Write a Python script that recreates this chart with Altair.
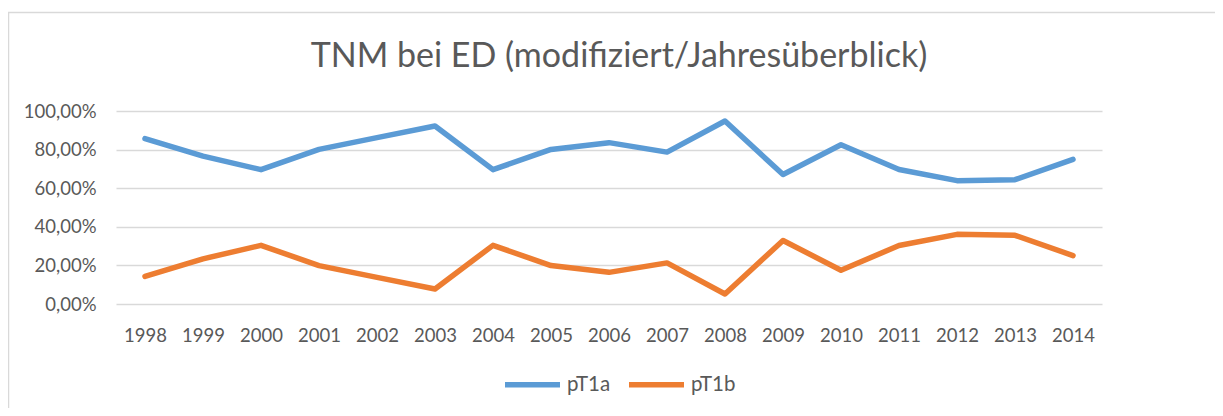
import altair as alt
import pandas as pd

years = [str(y) for y in range(1998, 2015)]
pT1a = [85.7, 76.6, 69.6, 80.1, 86.2, 92.2, 69.6, 80.1, 83.6, 78.7, 94.8, 67.1, 82.5, 69.7, 63.9, 64.4, 74.9]
pT1b = [14.3, 23.4, 30.4, 19.9, 13.8, 7.8, 30.4, 19.9, 16.4, 21.3, 5.2, 32.9, 17.5, 30.3, 36.1, 35.6, 25.1]
series = ["pT1a", "pT1b"]
colors = ["#5B9BD5", "#ED7D31"]
title_text = "TNM bei ED (modifiziert/Jahresüberblick)"

rows = []
for i, y in enumerate(years):
    rows.append({"year": y, "series": "pT1a", "value": pT1a[i] / 100})
    rows.append({"year": y, "series": "pT1b", "value": pT1b[i] / 100})
df = pd.DataFrame(rows)

FONT = "Lato"
GREY = "#595959"
FS = 18.5

lines = alt.Chart(df).mark_line(strokeWidth=5.5, strokeCap="round", strokeJoin="round").encode(
    x=alt.X("year:O", title=None, sort=years,
            scale=alt.Scale(type="point", padding=0.5),
            axis=alt.Axis(labelAngle=0, grid=False, ticks=False, domain=False,
                          labelPadding=22, labelFontSize=FS, labelColor=GREY, labelFont=FONT)),
    y=alt.Y("value:Q", title=None,
            scale=alt.Scale(domain=[0, 1]),
            axis=alt.Axis(values=[0, 0.2, 0.4, 0.6, 0.8, 1.0], ticks=False, domain=False,
                          gridColor="#D9D9D9", gridWidth=1.5, labelPadding=20,
                          labelFontSize=FS, labelColor=GREY, labelFont=FONT,
                          labelExpr="replace(format(datum.value, '.2%'), '.', ',')")),
    color=alt.Color("series:N", sort=series,
                    scale=alt.Scale(domain=series, range=colors),
                    legend=alt.Legend(title=None, orient="none", direction="horizontal",
                                      legendX=386, legendY=243, symbolType="stroke",
                                      symbolSize=3025, symbolStrokeWidth=5.5,
                                      labelFontSize=20.5, labelColor=GREY, labelFont=FONT,
                                      labelOffset=4, columnPadding=7)),
)

border = alt.Chart(pd.DataFrame({"a": [0]})).mark_rect(filled=False, stroke="#D9D9D9", strokeWidth=1.5).encode(
    x=alt.value(-107.5), x2=alt.value(1300), y=alt.value(-98.5), y2=alt.value(600)
)

title = alt.Chart(pd.DataFrame({"t": [title_text]})).mark_text(
    font=FONT, fontSize=34, color=GREY, align="center", baseline="alphabetic"
).encode(text="t:N", x=alt.value(503), y=alt.value(-44))

chart = alt.layer(border, lines, title).properties(
    width=986, height=193,
    padding={"left": 108, "top": 103, "right": 113, "bottom": 104},
    autosize=alt.AutoSizeParams(type="none"),
).configure_view(stroke=None)

chart.save("out.html", embed_options={"renderer": "svg", "actions": False})
